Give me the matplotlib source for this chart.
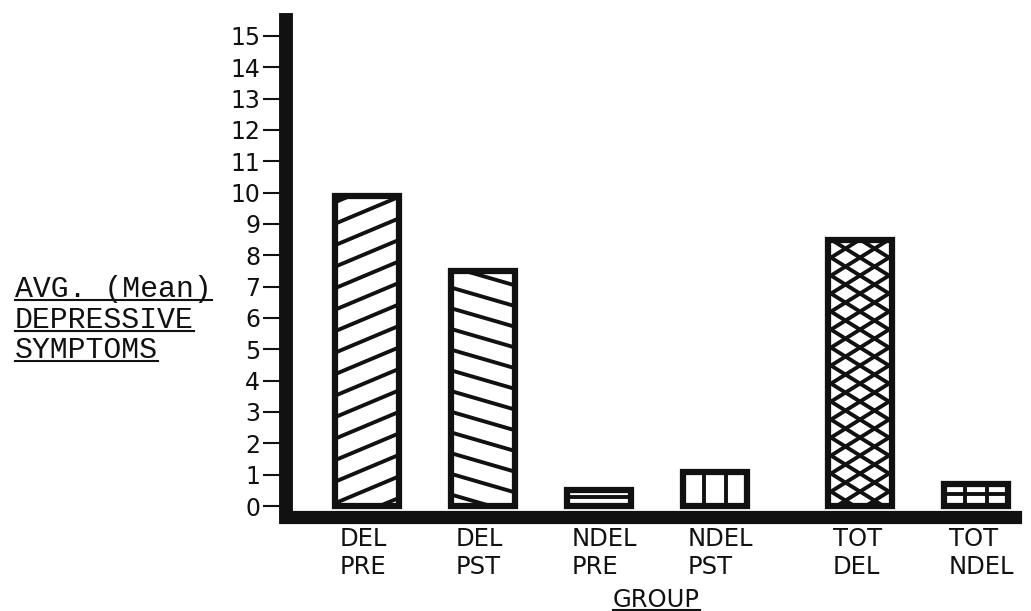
import matplotlib
matplotlib.use("Agg")
import matplotlib.pyplot as plt
import numpy as np
from matplotlib.lines import Line2D
from matplotlib.collections import LineCollection
from matplotlib.transforms import ScaledTranslation

# ---------------- data ----------------
categories = ["DEL\nPRE", "DEL\nPST", "NDEL\nPRE", "NDEL\nPST", "TOT\nDEL", "TOT\nNDEL"]
groups = ["individual", "individual", "individual", "individual", "total", "total"]
values = [9.9, 7.5, 0.5, 1.1, 8.5, 0.7]
yticks = list(range(0, 16))
ylabel_lines = ["AVG. (Mean)", "DEPRESSIVE", "SYMPTOMS"]
xlabel_text = "GROUP"

# hatch styles (layout): ("slope", m, spacing_px) / ("h", spacing_px) / ("v", ncols)
hatch_styles = [
    [("slope", 0.42, 21.5)],
    [("slope", -0.29, 20.7)],
    [("h", 9.0)],
    [("v", 3)],
    [("slope", 0.62, 18.0), ("slope", -0.62, 18.0)],
    [("h", 12.0), ("v", 3)],
]

# ---------------- figure / axes ----------------
W, H = 1031, 611
fig = plt.figure(figsize=(W / 100, H / 100), dpi=100)
L, R, B, T = 286, 1015, 516.5, 20
ax = fig.add_axes([L / W, 1 - B / H, (R - L) / W, (B - T) / H])

gap = 0.25
xpos = np.arange(len(categories)) + gap * np.array([g == "total" for g in groups])
width = 0.55
ax.set_xlim(-0.698, 5.586)
ax.set_ylim(-0.335, 15.51)

black = "#111111"

bars = ax.bar(xpos, values, width, color="white", edgecolor="none", zorder=2)
ax.bar(xpos, values, width, fill=False, edgecolor=black, linewidth=4.5, zorder=4)

# hatching drawn in pixel-scaled units, clipped to each bar
sx = ax.transData.transform((1, 0))[0] - ax.transData.transform((0, 0))[0]
sy = ax.transData.transform((0, 1))[1] - ax.transData.transform((0, 0))[1]
for rect, style in zip(bars, hatch_styles):
    x0 = rect.get_x()
    Wp = rect.get_width() * sx
    Hp = rect.get_height() * sy
    segs = []
    for fam in style:
        if fam[0] == "slope":
            m, s = fam[1], fam[2]
            c = -abs(m) * Wp - s
            while c < Hp + abs(m) * Wp + s:
                u0, u1 = 0.0, Wp
                v0 = m * (u0 - Wp / 2) + c
                v1 = m * (u1 - Wp / 2) + c
                segs.append([(x0 + u0 / sx, v0 / sy), (x0 + u1 / sx, v1 / sy)])
                c += s
        elif fam[0] == "h":
            s = fam[1]
            v = s
            while v < Hp:
                segs.append([(x0, v / sy), (x0 + Wp / sx, v / sy)])
                v += s
        elif fam[0] == "v":
            n = fam[1]
            for k in range(1, n):
                u = Wp * k / n
                segs.append([(x0 + u / sx, 0), (x0 + u / sx, Hp / sy)])
    lc = LineCollection(segs, colors=black, linewidths=2.8, zorder=3)
    ax.add_collection(lc)
    lc.set_clip_path(rect)

# ---------------- axes styling ----------------
for side in ("top", "right"):
    ax.spines[side].set_visible(False)
ax.spines["left"].set_linewidth(10)
ax.spines["bottom"].set_linewidth(9.5)
for side in ("left", "bottom"):
    ax.spines[side].set_color(black)
    ax.spines[side].set_capstyle("projecting")

ax.set_yticks(yticks)
ax.set_yticklabels([str(v) for v in yticks])
ax.tick_params(axis="y", direction="out", length=16.5, width=1.5, pad=2,
               labelsize=17, colors=black)

ax.set_xticks(xpos)
ax.set_xticklabels(categories, ha="left", multialignment="left", linespacing=1.24)
ax.tick_params(axis="x", length=0, pad=7.5, labelsize=17.5, colors=black)
offset = ScaledTranslation(-0.27, 0, fig.dpi_scale_trans)
for lab in ax.get_xticklabels():
    lab.set_transform(lab.get_transform() + offset)

ax.set_xlabel(xlabel_text, fontsize=17.5, color=black)
ax.xaxis.label.set_va("baseline")
ax.xaxis.set_label_coords((656 - L) / (R - L), (B - 607) / (B - T))

ylabel_texts = []
for i, line in enumerate(ylabel_lines):
    t = fig.text(15 / W, 1 - (297 + 30.5 * i) / H, line, family="Liberation Mono",
                 fontsize=21.5, color=black, ha="left", va="baseline")
    ylabel_texts.append((t, 297 + 30.5 * i))

# underline the axis titles
fig.canvas.draw()
renderer = fig.canvas.get_renderer()
under = [(t, base) for t, base in ylabel_texts] + [(ax.xaxis.label, 607)]
for t, base in under:
    bb = t.get_window_extent(renderer)
    yb = 1 - (base + 3) / H
    fig.add_artist(Line2D([bb.x0 / W, bb.x1 / W], [yb, yb], transform=fig.transFigure,
                          color=black, linewidth=1.5))

fig.savefig("out.png", dpi=100, facecolor="white")
